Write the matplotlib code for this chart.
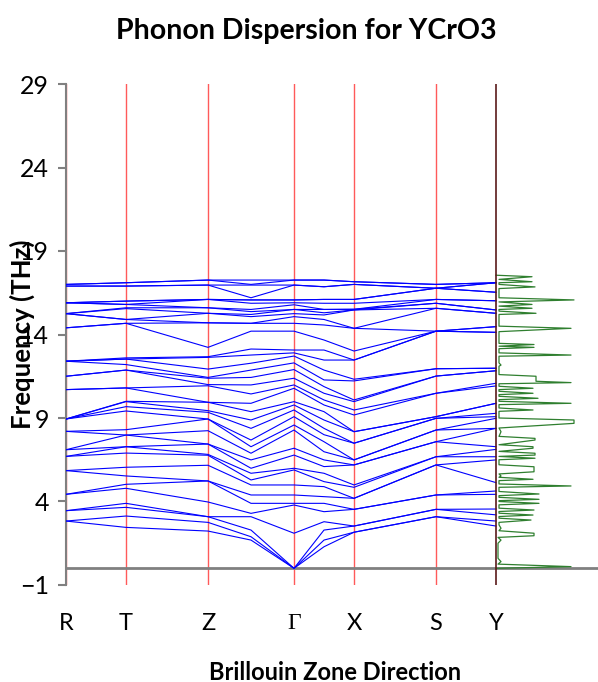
import numpy as np
import matplotlib
matplotlib.use("Agg")
import matplotlib.pyplot as plt

plt.rcParams["font.family"] = ["Lato", "DejaVu Sans"]

# high symmetry points along the path (distance units)
kpoint_labels = ["R", "T", "Z", "Γ", "X", "S", "Y"]
kpoint_dist = [0, 60, 142, 228, 288, 370, 430]
# sampled points: the symmetry points plus the Z-G and G-X midpoints
sample_dist = [0, 60, 142, 185, 228, 258, 288, 370, 430]

# frequencies (THz) read at each sampled point
freq_R = [2.83, 2.83, 3.45, 3.45, 4.43, 4.43, 5.85, 5.85, 6.7, 6.7, 7.1, 7.1, 8.2, 8.2,
          8.94, 8.94, 8.94, 8.94, 10.7, 10.7, 11.5, 11.5, 12.4, 12.4, 12.4, 12.4,
          14.4, 14.4, 15.25, 15.25, 15.25, 15.25, 15.9, 15.9, 15.9, 15.9, 16.9, 16.9, 17.0, 17.0]
freq_T = [2.45, 3.13, 3.65, 3.89, 4.79, 5.03, 5.53, 6.05, 6.9, 7.28, 7.28, 7.98, 7.98, 8.3,
          9.42, 9.68, 9.98, 10.0, 10.8, 10.8, 11.87, 11.87, 12.2, 12.53, 12.53, 12.6,
          14.67, 14.67, 14.9, 14.9, 15.55, 15.6, 15.8, 15.8, 16.0, 16.0, 16.9, 16.9, 17.1, 17.1]
freq_Z = [2.23, 2.75, 3.09, 3.09, 3.97, 5.23, 5.23, 6.17, 6.77, 6.82, 7.44, 7.44, 8.24,
          8.94, 8.94, 9.34, 9.44, 9.94, 9.94, 10.93, 11.0, 11.38, 11.43, 11.93, 12.63, 12.67,
          13.23, 14.7, 14.7, 15.27, 15.27, 15.6, 15.6, 16.1, 16.1, 16.1, 16.96, 16.96, 17.26, 17.26]
freq_ZG = [1.69, 1.89, 2.29, 3.09, 3.29, 3.89, 4.39, 4.99, 5.29, 5.69, 5.99, 6.49, 6.89,
           7.28, 7.68, 8.38, 8.88, 9.38, 9.88, 10.44, 10.98, 11.43, 11.87, 12.28, 12.77, 13.13,
           14.2, 14.67, 14.67, 15.07, 15.2, 15.37, 15.5, 15.87, 16.07, 16.07, 16.2, 16.96, 17.0, 17.26]
freq_G = [0.0, 0.0, 0.0, 2.1, 3.79, 3.89, 4.39, 4.99, 5.89, 5.99, 6.78, 7.19, 8.28, 8.58,
          9.08, 9.48, 9.78, 9.98, 10.78, 10.98, 11.38, 11.9, 12.3, 12.71, 12.9, 13.07,
          14.2, 14.67, 15.07, 15.25, 15.5, 15.5, 15.78, 15.9, 16.07, 16.07, 16.96, 16.96, 17.26, 17.26]
freq_GX = [1.29, 1.69, 2.29, 2.79, 3.39, 3.89, 4.29, 4.89, 5.19, 5.69, 6.09, 6.49, 6.98,
           7.58, 8.0, 8.38, 8.88, 9.38, 9.78, 10.08, 10.48, 10.88, 11.28, 11.87, 12.47, 13.07,
           13.67, 14.57, 14.9, 15.17, 15.3, 15.5, 15.5, 15.87, 16.1, 16.1, 16.86, 16.86, 17.26, 17.26]
freq_X = [2.16, 2.16, 2.53, 2.53, 3.53, 3.53, 4.19, 4.19, 4.85, 4.99, 6.19, 6.19, 6.49, 6.49,
          7.49, 7.49, 8.18, 8.18, 9.18, 9.48, 9.98, 10.08, 11.22, 11.32, 12.47, 12.47,
          13.01, 14.37, 14.37, 15.47, 15.47, 15.51, 15.51, 15.87, 16.1, 16.1, 17.0, 17.0, 17.16, 17.16]
freq_S = [3.09, 3.09, 3.53, 3.53, 4.39, 4.39, 6.19, 6.19, 6.68, 6.68, 7.58, 7.58, 8.28, 8.28,
          8.98, 8.98, 9.08, 9.08, 10.48, 10.48, 11.51, 11.51, 11.95, 11.95,
          14.2, 14.2, 14.2, 14.2, 15.57, 15.57, 15.87, 15.87, 16.1, 16.1, 16.77, 16.77, 16.77, 16.77, 17.0, 17.0]
freq_Y = [2.53, 2.83, 3.2, 3.55, 4.43, 4.63, 5.13, 6.49, 6.68, 7.12, 7.28, 8.38, 8.38, 8.98,
          9.08, 9.28, 9.88, 9.88, 10.92, 11.08, 11.83, 11.83, 11.98, 11.98,
          14.13, 14.13, 14.47, 14.47, 15.27, 15.27, 15.47, 15.47, 16.02, 16.02, 16.53, 16.53, 17.1, 17.1, 17.1, 17.1]

# phonon density of states (arbitrary units) drawn to the right of Y
dos_freq = [0.0, 0.1, 0.25, 0.4, 0.6, 1.5, 1.69, 1.85, 1.95, 2.1, 2.25, 2.4, 2.6, 2.75, 2.89,
            3.0, 3.1, 3.19, 3.3, 3.4, 3.49, 3.6, 3.8, 3.89, 4.0, 4.05, 4.13, 4.25, 4.35, 4.45,
            4.6, 4.85, 4.93, 5.05, 5.25, 5.33, 5.45, 5.53, 5.65, 5.78, 6.08, 6.2, 6.5, 6.59,
            6.7, 6.78, 6.89, 7.0, 7.19, 7.28, 7.4, 7.68, 7.78, 7.9, 8.18, 8.4, 8.68, 8.88,
            9.0, 9.4, 9.48, 9.6, 9.8, 9.88, 10.0, 10.1, 10.18, 10.3, 10.4, 10.48, 10.6, 10.7,
            10.78, 10.9, 11.05, 11.12, 11.2, 11.5, 11.6, 12.1, 12.17, 12.3, 12.7, 12.77, 12.9,
            13.15, 13.23, 13.3, 13.4, 13.47, 14.1, 14.17, 14.37, 14.5, 14.57, 15.2, 15.27,
            15.4, 15.5, 15.57, 15.7, 15.8, 15.95, 16.07, 16.2, 16.75, 16.85, 17.0, 17.1, 17.16,
            17.3, 17.46, 17.55]
dos_val = [0, 75, 2, 5, 2, 2, 5, 2, 38, 38, 3, 5, 3, 3, 35,
           3, 3, 37, 3, 3, 38, 3, 3, 43, 3, 3, 43, 3, 3, 43,
           3, 3, 75, 3, 3, 37, 3, 5, 3, 38, 38, 3, 3, 39,
           3, 39, 39, 3, 37, 37, 3, 39, 39, 3, 5, 3, 78, 78,
           3, 3, 37, 3, 3, 75, 3, 3, 42, 3, 3, 37, 3, 3,
           37, 3, 3, 75, 40, 40, 3, 3, 5, 3, 3, 75, 3,
           3, 38, 3, 38, 3, 3, 3, 75, 3, 3, 3, 40,
           3, 3, 36, 3, 36, 3, 78, 3, 3, 39, 3, 3, 36,
           3, 36, 0]

bands = np.array([freq_R, freq_T, freq_Z, freq_ZG, freq_G, freq_GX, freq_X, freq_S, freq_Y])
bands = np.sort(bands, axis=1).T

fig = plt.figure(figsize=(5.98, 6.82), dpi=100)
ax = fig.add_axes([66 / 598, 1 - 585 / 682, 1 - 66 / 598, (585 - 84) / 682])

for band in bands:
    ax.plot(sample_dist, band, color="#0000ff", linewidth=0.8, zorder=3)

ax.plot(kpoint_dist[-1] + np.array(dos_val), dos_freq, color="#2f7f2f", linewidth=0.9, zorder=3)

ax.axhline(0, color="#808080", linewidth=2, zorder=2)
for x in kpoint_dist[:-1]:
    ax.axvline(x, color="#ff5a5a", linewidth=1, zorder=1)
ax.axvline(kpoint_dist[-1], color="#5a1a1a", linewidth=1.2, zorder=4)

ax.set_xlim(0, 532)
ax.set_ylim(-1, 29)
ax.set_yticks([-1, 4, 9, 14, 19, 24, 29])
ax.set_xticks(kpoint_dist)
ax.set_xticklabels(kpoint_labels)
for lbl in ax.get_xticklabels():
    if lbl.get_text() == "Γ":
        lbl.set_fontfamily("Liberation Serif")

for side in ["top", "right", "bottom"]:
    ax.spines[side].set_visible(False)
ax.spines["left"].set_color("#808080")
ax.spines["left"].set_linewidth(1.5)
ax.tick_params(axis="y", direction="out", length=6, width=1.5, color="#808080",
               labelsize=18, pad=6)
ax.tick_params(axis="x", length=0, labelsize=17, pad=20)

fig.text(0.512, 0.954, "Phonon Dispersion for YCrO3", ha="center", va="center",
         fontsize=20.5, fontweight="bold")
fig.text(0.56, 1 - 672 / 682, "Brillouin Zone Direction", ha="center", va="center",
         fontsize=17, fontweight="bold")
fig.text(0.037, 0.51, "Frequency (THz)", ha="center", va="center", rotation=90,
         fontsize=18.5, fontweight="bold")

fig.savefig("out.png", dpi=100)
